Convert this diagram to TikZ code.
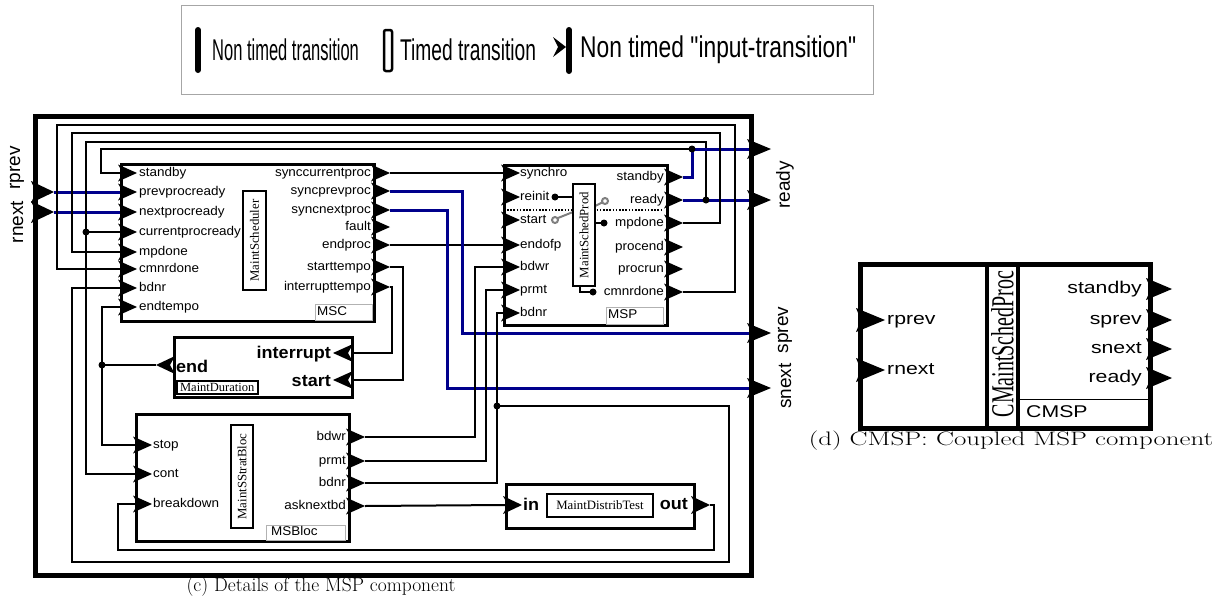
\documentclass[tikz,border=0pt]{standalone}
\usepackage{fontspec}
\usepackage{graphicx}
\newfontfamily\portsans[FakeStretch=1.06]{Liberation Sans}
\newfontfamily\widesans[FakeStretch=1.25]{Liberation Sans}
\newfontfamily\plainsans{Liberation Sans}
\newfontfamily\namefont{Liberation Serif}
\usetikzlibrary{calc, positioning}
\definecolor{wireblue}{RGB}{0,0,140}

% chevron port: back x, y, direction (1 right / -1 left), half height, length
\newcommand{\port}[5]{\fill[shift={(#1,#2)}, xscale=#3] (-2,-#4) -- (#5,0) -- (-2,#4) -- (3,0) -- cycle;}

\tikzset{
  blk/.style={draw, line width=3, inner sep=0, anchor=north west},
  namebox/.style={draw, line width=2.5, fill=white, inner sep=0, font=\namefont\fontsize{12.8}{13}\selectfont},
  tagbox/.style={draw=gray!60, line width=1, inner sep=0, anchor=north west},
  wire/.style={line width=2},
  bluewire/.style={line width=3, wireblue},
  plabel/.style={inner sep=1, text height=9, text depth=2.6, font=\portsans\fontsize{12.7}{12.7}\selectfont},
  blabel/.style={inner sep=1, text height=11.5, text depth=0.5, font=\portsans\bfseries\fontsize{17}{17}\selectfont},
  flabel/.style={inner sep=0, rotate=90, font=\plainsans\fontsize{19}{19}\selectfont},
  clabel/.style={inner sep=1, text height=12.5, text depth=3.8, font=\widesans\fontsize{17}{17}\selectfont},
  legtext/.style={anchor=west, inner sep=1, font=\plainsans\fontsize{30}{30}\selectfont},
}

\begin{document}
\begin{tikzpicture}[x=1pt, y=-1pt]
\useasboundingbox (0,0) rectangle (1224,600);

% legend
\draw[gray!70, line width=1] (181,5) rectangle (873,94);
\draw[line width=6, line cap=round] (198,30) -- (198,70);
\node[legtext] (leg-nt) at (211,50) {\scalebox{0.55}[1]{Non timed transition}};
\draw[line width=2.5, rounded corners=2, fill=white] (384,30) rectangle (392,71);
\node[legtext] (leg-t) at (399,50) {\scalebox{0.64}[1]{Timed transition}};
\fill (553,37) -- (566,47) -- (553,57) -- (558,47) -- cycle;
\draw[line width=6, line cap=round] (569,30) -- (569,71);
\node[legtext] (leg-in) at (579,50) {\scalebox{0.76}[1]{Non timed "input-transition"}};

% MSP frame
\node[draw, line width=5, inner sep=0, anchor=north west, minimum width=716, minimum height=459] (frame) at (33,114) {};
\port{33}{192}{1}{11}{21}
\port{33}{212}{1}{11}{21}
\coordinate (rprev) at (54,192);
\coordinate (rnext) at (54,212);
\node[flabel] (rprev-t) at (17,168) {rprev};
\node[flabel] (rnext-t) at (17,222) {rnext};
\foreach \p/\y in {standby/149,ready/200,sprev/333,snext/388}{
  \port{749}{\y}{1}{10}{22}
  \coordinate (f-\p) at (749,\y);
}
\node[flabel] (ready-t) at (785,185) {ready};
\node[flabel] (sprev-t) at (785,330) {sprev};
\node[flabel] (snext-t) at (785,386) {snext};

% junctions
\coordinate (j-end) at (102,365);
\coordinate (j-cur) at (86,232);
\coordinate (j-ready) at (706,200);
\coordinate (j-standby) at (692,149);
\coordinate (j-bdnr) at (497,406);

% MSC
\node[blk, minimum width=253, minimum height=157] (msc) at (120,163) {};
\foreach \p/\y in {standby/173,prevprocready/192,nextprocready/212,currentprocready/232,mpdone/252,cmnrdone/269,bdnr/288,endtempo/307}{
  \port{120}{\y}{1}{8.5}{17}
  \coordinate (msc-\p) at (120,\y);
  \node[plabel, anchor=west] (msc-\p-t) at (138,\y) {\p};
}
\foreach \p/\y in {synccurrentproc/173,syncprevproc/191,syncnextproc/210,fault/227,endproc/245,starttempo/267,interrupttempo/287}{
  \port{373}{\y}{1}{8.5}{17}
  \coordinate (msc-\p) at (390,\y);
  \node[plabel, anchor=east] (msc-\p-t) at (372,\y) {\p};
}
\node[namebox, rotate=90, minimum width=99, minimum height=23] (msc-name) at (254.5,240.5) {MaintScheduler};
\node[tagbox, minimum width=57, minimum height=16] (msc-tag) at (315,304) {};
\node[plabel, anchor=west] (msc-tag-t) at (316,312) {MSC};

% MSP
\node[blk, minimum width=163, minimum height=160] (msp) at (503,164) {};
\draw[line width=2.2, dash pattern=on 1.6pt off 1.6pt] (507,210) -- (662,210);
\foreach \p/\y in {synchro/173,reinit/197,start/220,endofp/245,bdwr/267,prmt/290,bdnr/313}{
  \port{503}{\y}{1}{8.5}{17}
  \coordinate (msp-\p) at (503,\y);
  \node[plabel, anchor=west] (msp-\p-t) at (519,\y) {\p};
}
\foreach \p/\y in {standby/177,ready/200,mpdone/223,procend/247,procrun/269,cmnrdone/292}{
  \port{666}{\y}{1}{8.5}{17}
  \coordinate (msp-\p) at (683,\y);
  \node[plabel, anchor=east] (msp-\p-t) at (665,\y) {\p};
}
\draw[wire] (555,197) -- (573,197);
\fill (555,197) circle[radius=3.5];
\draw[gray, line width=2] (555,220) circle[radius=3];
\draw[gray, line width=2] (558,218) -- (573,212);
\draw[gray, line width=2] (605,201) circle[radius=3];
\draw[gray, line width=2] (595,206) -- (602,202.5);
\draw[wire] (595,223) -- (604,223);
\fill (604,223) circle[radius=3.5];
\draw[wire] (580,286) |- (593,292);
\fill (593,292) circle[radius=3.5];
\node[namebox, rotate=90, minimum width=102, minimum height=22] (msp-name) at (584,235) {MaintSchedProd};
\node[tagbox, minimum width=57, minimum height=17] (msp-tag) at (606,307) {};
\node[plabel, anchor=west] (msp-tag-t) at (607,315.5) {MSP};

% MaintDuration
\node[blk, minimum width=178, minimum height=60] (mdur) at (173,336) {};
\port{173}{365}{-1}{9}{17}
\coordinate (md-end) at (156,365);
\node[blabel, anchor=west] (md-end-t) at (175,367) {end};
\port{351}{353}{-1}{9}{18}
\coordinate (md-interrupt) at (351,353);
\node[blabel, anchor=east] (md-interrupt-t) at (332,353) {interrupt};
\port{351}{380}{-1}{9}{18}
\coordinate (md-start) at (351,380);
\node[blabel, anchor=east] (md-start-t) at (332,381) {start};
\node[draw, line width=1.5, inner sep=0, anchor=north west, minimum width=81, minimum height=13,
  font=\namefont\fontsize{12.5}{12.5}\selectfont] (md-tag) at (176,380) {MaintDuration};

% MSBloc
\node[blk, minimum width=213, minimum height=127] (msb) at (135,413) {};
\foreach \p/\y in {stop/445,cont/474,breakdown/504}{
  \port{135}{\y}{1}{8.5}{17}
  \coordinate (msb-\p) at (135,\y);
  \node[plabel, anchor=west] (msb-\p-t) at (152,\y) {\p};
}
\foreach \p/\y in {bdwr/437,prmt/461,bdnr/483,asknextbd/506}{
  \port{348}{\y}{1}{8.5}{17}
  \coordinate (msb-\p) at (365,\y);
  \node[plabel, anchor=east] (msb-\p-t) at (347,\y) {\p};
}
\node[namebox, rotate=90, minimum width=103, minimum height=22] (msb-name) at (242,476.5) {MaintSStratBloc};
\node[tagbox, minimum width=79, minimum height=15] (msb-tag) at (266,525) {};
\node[plabel, anchor=west] (msb-tag-t) at (270,532.5) {MSBloc};

% MaintDistribTest
\node[blk, minimum width=188, minimum height=44] (mdt) at (505,483) {};
\port{505}{505}{1}{9}{17}
\coordinate (mdt-in) at (505,505);
\node[blabel, anchor=west] (mdt-in-t) at (522,505) {in};
\node[namebox, line width=2, minimum width=106, minimum height=23] (mdt-name) at (600,505.5) {MaintDistribTest};
\port{693}{505}{1}{9}{17}
\coordinate (mdt-out) at (710,505);
\node[blabel, anchor=east] (mdt-out-t) at (689,504) {out};

% connectors
\draw[bluewire] (rprev) -- (msc-prevprocready);
\draw[bluewire] (rnext) -- (msc-nextprocready);
\draw[wire] (msc-synccurrentproc) -- (msp-synchro);
\draw[wire] (msc-endproc) -- (msp-endofp);
\draw[bluewire] (msc-syncprevproc) -| (462,333) -- (f-sprev);
\draw[bluewire] (msc-syncnextproc) -| (447,388) -- (f-snext);
\draw[wire] (msc-starttempo) -| (403,380) -- (md-start);
\draw[wire] (msc-interrupttempo) -| (392,353) -- (md-interrupt);
\draw[wire] (md-end) -- (j-end);
\draw[wire] (j-end) |- (msc-endtempo);
\draw[wire] (j-end) |- (msb-stop);
\draw[wire] (msb-cont) -| (86,142) -| (j-ready);
\draw[wire] (j-cur) -- (msc-currentprocready);
\draw[bluewire] (msp-ready) -- (f-ready);
\draw[bluewire] (msp-standby) -| (j-standby) -- (f-standby);
\draw[wire] (j-standby) -| (101,173) -- (msc-standby);
\draw[wire] (msp-mpdone) -| (720,133) -| (72,252) -- (msc-mpdone);
\draw[wire] (msp-cmnrdone) -| (735,125) -| (57,269) -- (msc-cmnrdone);
\draw[wire] (msb-bdwr) -| (475,267) -- (msp-bdwr);
\draw[wire] (msb-prmt) -| (486,290) -- (msp-prmt);
\draw[wire] (msb-bdnr) -| (497,313) -- (msp-bdnr);
\draw[wire] (j-bdnr) -| (729,562) -| (72,288) -- (msc-bdnr);
\draw[wire] (msb-asknextbd) -- (mdt-in);
\draw[wire] (mdt-out) -| (714,550) -| (118,504) -- (msb-breakdown);
\foreach \j in {j-end,j-cur,j-ready,j-standby,j-bdnr}{
  \fill (\j) circle[radius=3.5];
}

\node[font=\fontsize{19.5}{20}\selectfont] (cap-c) at (321,587) {(c) Details of the MSP component};

% CMSP
\node[draw, line width=5, inner sep=0, anchor=north west, minimum width=290, minimum height=164] (cmsp) at (858,262) {};
\draw[line width=4] (987,262) -- (987,426);
\draw[line width=4] (1018,262) -- (1018,426);
\node[rotate=90, inner sep=0, font=\namefont\fontsize{20}{20}\selectfont] (cmsp-name) at (1002.5,344) {\scalebox{1}[1.6]{CMaintSchedProc}};
\draw[line width=1] (1018,399) -- (1148,399);
\node[clabel, anchor=west] (cmsp-tag) at (1025,413) {CMSP};
\foreach \p/\y in {rprev/320,rnext/370}{
  \port{858}{\y}{1}{12}{27}
  \node[clabel, anchor=west] (cmsp-\p) at (886,\y) {\p};
}
\foreach \p/\y in {standby/289,sprev/320,snext/349,ready/378}{
  \port{1148}{\y}{1}{11}{24}
  \node[clabel, anchor=east] (cmsp-\p) at (1143,\y) {\p};
}
\node[font=\fontsize{19.5}{20}\selectfont] (cap-d) at (1011,441) {\scalebox{1.38}[1]{(d) CMSP: Coupled MSP component}};
\end{tikzpicture}
\end{document}
